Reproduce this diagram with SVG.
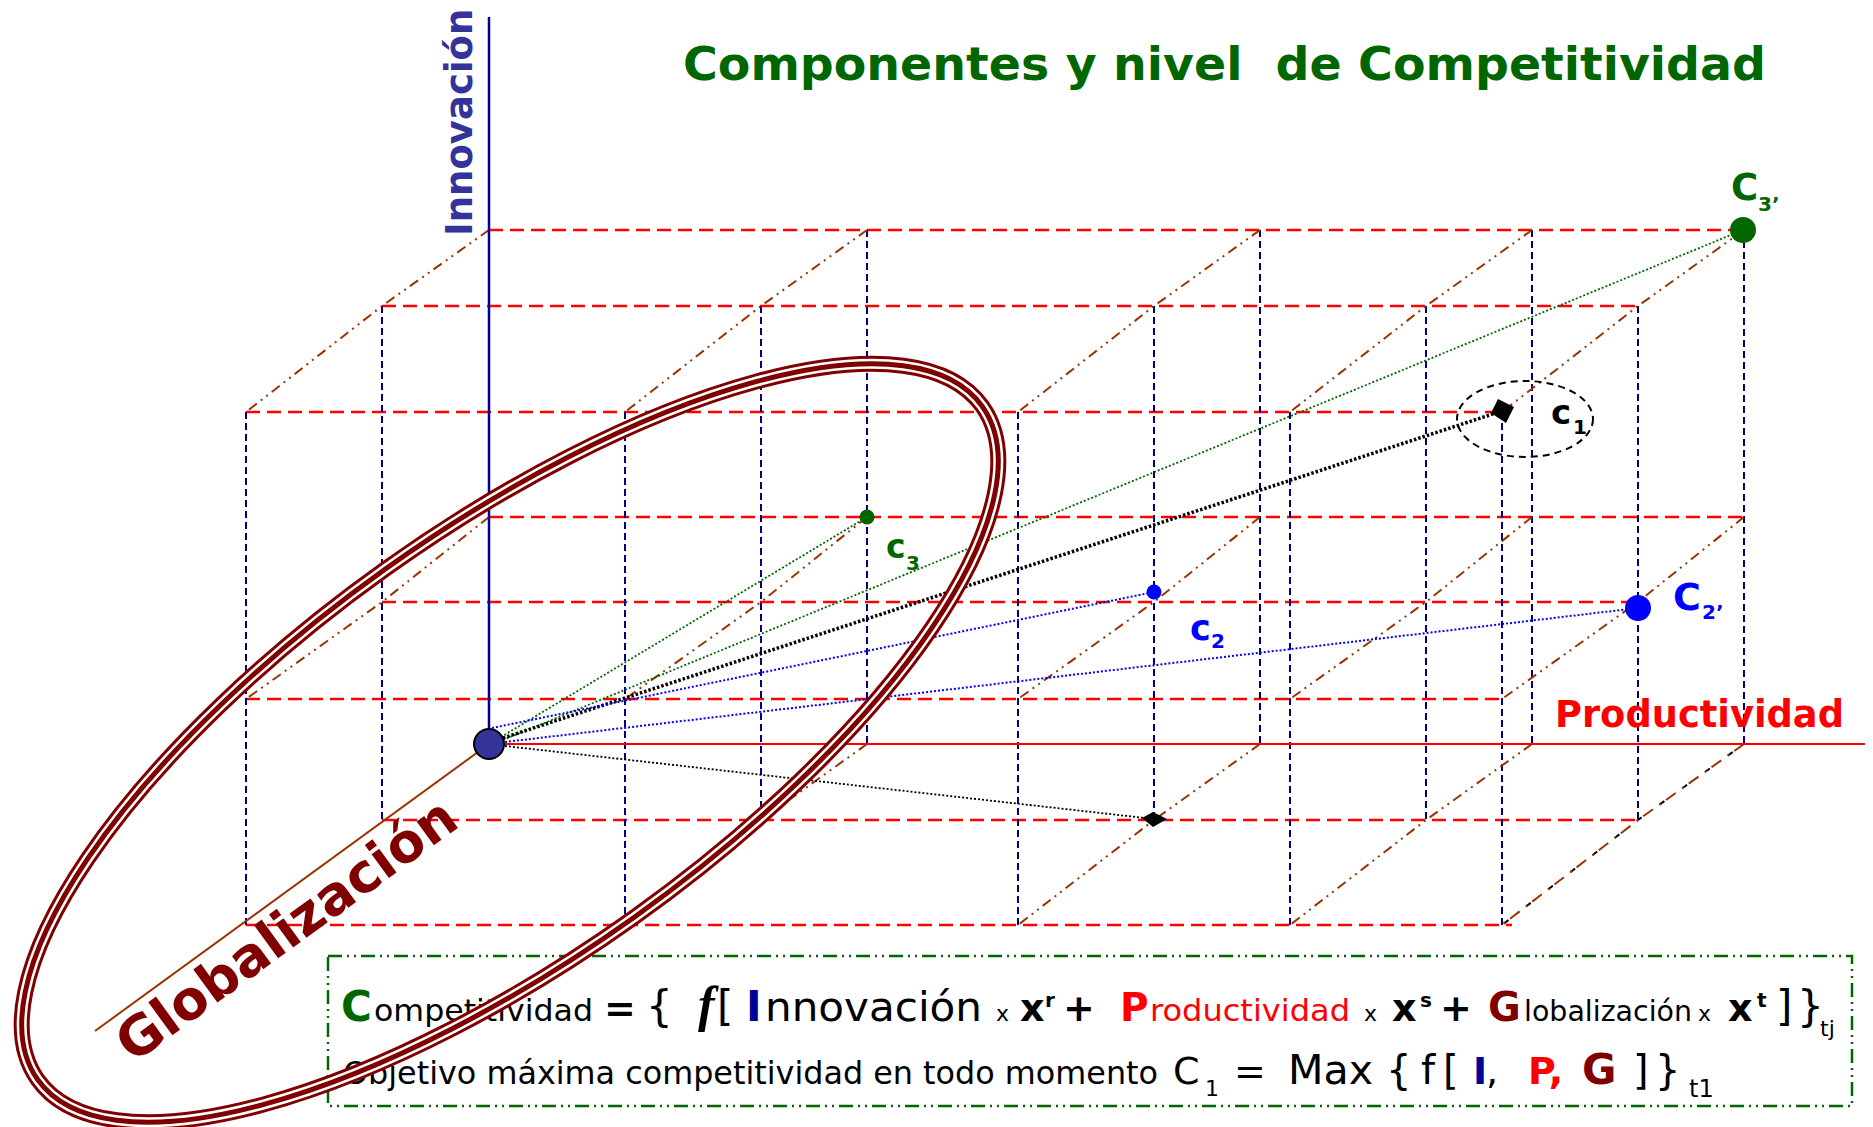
<svg xmlns="http://www.w3.org/2000/svg" width="1873" height="1127" viewBox="0 0 1873 1127">
<style>
.rd{stroke:#ff0000;stroke-width:2.5;stroke-dasharray:14 7;fill:none}
.bl{stroke:#000080;stroke-width:2;stroke-dasharray:7 4;fill:none}
.br{stroke:#993300;stroke-width:2;stroke-dasharray:10 5 2 5 2 5;fill:none}
.f{font-family:"DejaVu Sans","Liberation Sans",sans-serif;fill:#000}
.b{font-weight:bold}
.lbl{font-family:"DejaVu Sans","Liberation Sans",sans-serif;font-weight:bold}
.dot{fill:none;stroke-linecap:butt}
.ell{fill:none}
</style>
<rect width="1873" height="1127" fill="#ffffff"/>

<g id="title">
<text x="683" y="80" xml:space="preserve" class="lbl" font-size="47" fill="#006600" textLength="1083" lengthAdjust="spacingAndGlyphs">Componentes y nivel  de Competitividad</text>
</g>

<g id="grid">
<g class="rd">
<line x1="489" y1="230" x2="1744" y2="230"/>
<line x1="489" y1="517" x2="1744" y2="517"/>
<line x1="382" y1="306" x2="1638" y2="306"/>
<line x1="382" y1="602" x2="1638" y2="602"/>
<line x1="382" y1="820" x2="1638" y2="820"/>
<line x1="246" y1="412" x2="1502" y2="412"/>
<line x1="246" y1="699" x2="1502" y2="699"/>
<line x1="246" y1="925" x2="1512" y2="925"/>
</g>
<g class="bl">
<line x1="867" y1="230" x2="867" y2="744"/>
<line x1="1260" y1="230" x2="1260" y2="744"/>
<line x1="1532" y1="230" x2="1532" y2="744"/>
<line x1="1744" y1="230" x2="1744" y2="744"/>
<line x1="382" y1="306" x2="382" y2="820"/>
<line x1="761" y1="306" x2="761" y2="820"/>
<line x1="1154" y1="306" x2="1154" y2="820"/>
<line x1="1426" y1="306" x2="1426" y2="820"/>
<line x1="1638" y1="306" x2="1638" y2="820"/>
<line x1="246" y1="412" x2="246" y2="925"/>
<line x1="625" y1="412" x2="625" y2="925"/>
<line x1="1018" y1="412" x2="1018" y2="925"/>
<line x1="1290" y1="412" x2="1290" y2="925"/>
<line x1="1502" y1="412" x2="1502" y2="925"/>
</g>
<g class="br">
<polyline points="489,230 382,306 246,412"/>
<polyline points="489,517 382,602 246,699"/>
<polyline points="867,230 761,306 625,412"/>
<polyline points="867,517 761,602 625,699"/>
<polyline points="867,744 761,820 625,925"/>
<polyline points="1260,230 1154,306 1018,412"/>
<polyline points="1260,517 1154,602 1018,699"/>
<polyline points="1260,744 1154,820 1018,925"/>
<polyline points="1532,230 1426,306 1290,412"/>
<polyline points="1532,517 1426,602 1290,699"/>
<polyline points="1532,744 1426,820 1290,925"/>
<polyline points="1744,230 1638,306 1502,412"/>
<polyline points="1744,517 1638,602 1502,699"/>
</g>
<polyline points="1744,744 1638,820 1502,925" fill="none" stroke="#000000" stroke-width="2" stroke-dasharray="6 22" stroke-dashoffset="-14"/>
<polyline points="1744,744 1638,820 1502,925" fill="none" stroke="#993300" stroke-width="2" stroke-dasharray="12 6 2 8"/>
</g>

<g id="axes">
<line x1="489" y1="17" x2="489" y2="744" stroke="#000099" stroke-width="2.5"/>
<line x1="489" y1="744" x2="1865" y2="744" stroke="#ff0000" stroke-width="2"/>
<line x1="489" y1="744" x2="95" y2="1031" stroke="#993300" stroke-width="2"/>
<text class="lbl" font-size="37" fill="#333399" transform="translate(472,236) rotate(-90)">Innovación</text>
<text class="lbl" font-size="36.5" fill="#ff0000" x="1555" y="727" textLength="289" lengthAdjust="spacingAndGlyphs">Productividad</text>
</g>

<g id="connectors">
<line class="dot" x1="501" y1="737" x2="867" y2="517" stroke="#006600" stroke-width="1.8" stroke-dasharray="2 2"/>
<line class="dot" x1="503" y1="740" x2="1743" y2="230" stroke="#006600" stroke-width="1.8" stroke-dasharray="2 2"/>
<line class="dot" x1="503" y1="738" x2="1502" y2="411" stroke="#000000" stroke-width="3.5" stroke-dasharray="2.5 2"/>
<line class="dot" x1="492" y1="728" x2="1154" y2="592" stroke="#0000ff" stroke-width="2" stroke-dasharray="2 2"/>
<line class="dot" x1="505" y1="742" x2="1638" y2="608" stroke="#0000ff" stroke-width="2" stroke-dasharray="2 2"/>
<line class="dot" x1="505" y1="746" x2="1154" y2="819" stroke="#000000" stroke-width="1.8" stroke-dasharray="2 2"/>
</g>

<g id="formula">
<rect x="328" y="956" width="1524" height="150" fill="none" stroke="#006600" stroke-width="2.5" stroke-dasharray="14 5 2 5 2 5"/>
<text class="f" y="1021">
<tspan x="341" class="b" fill="#006600" font-size="42">C</tspan><tspan x="374" font-size="31" textLength="219" lengthAdjust="spacingAndGlyphs">ompetitividad</tspan><tspan x="604" class="b" font-size="38">=</tspan><tspan x="646" font-size="42">{</tspan><tspan x="698" font-family="Liberation Serif" font-style="italic" font-weight="bold" font-size="50">f</tspan><tspan x="717" font-size="42">[</tspan><tspan x="746" class="b" fill="#000099" font-size="42">I</tspan><tspan x="765" font-size="41" textLength="217" lengthAdjust="spacingAndGlyphs">nnovación</tspan><tspan x="996" font-size="22">x</tspan><tspan x="1020" class="b" font-size="38">x</tspan><tspan x="1045" y="1007" class="b" font-size="20">r</tspan><tspan x="1063" y="1021" class="b" font-size="38">+</tspan><tspan x="1120" class="b" fill="#ff0000" font-size="39">P</tspan><tspan x="1150" fill="#ff0000" font-size="31" textLength="200" lengthAdjust="spacingAndGlyphs">roductividad</tspan><tspan x="1364" font-size="22">x</tspan><tspan x="1392" class="b" font-size="38">x</tspan><tspan x="1420" y="1007" class="b" font-size="20">s</tspan><tspan x="1440" y="1021" class="b" font-size="38">+</tspan><tspan x="1488" class="b" fill="#800000" font-size="40">G</tspan><tspan x="1524" font-size="28.5" textLength="168" lengthAdjust="spacingAndGlyphs">lobalización</tspan><tspan x="1698" font-size="22">x</tspan><tspan x="1728" class="b" font-size="38">x</tspan><tspan x="1757" y="1007" class="b" font-size="20">t</tspan><tspan x="1776" y="1021" font-size="42">]</tspan><tspan x="1797" font-size="42">}</tspan><tspan x="1820" y="1036" font-size="22">tj</tspan>
</text>
<text class="f" y="1084">
<tspan x="343" font-size="32" textLength="815" lengthAdjust="spacingAndGlyphs">Objetivo máxima competitividad en todo momento</tspan><tspan x="1173" font-size="38">C</tspan><tspan x="1205" y="1096" font-size="22">1</tspan><tspan x="1234" y="1084" font-size="38">=</tspan><tspan x="1288" font-size="41" textLength="85" lengthAdjust="spacingAndGlyphs">Max</tspan><tspan x="1386" font-size="40">{</tspan><tspan x="1421" font-size="40">f</tspan><tspan x="1443" font-size="40">[</tspan><tspan x="1473" class="b" fill="#000099" font-size="38">I</tspan><tspan x="1486" font-size="38">,</tspan><tspan x="1528" class="b" fill="#ff0000" font-size="38">P,</tspan><tspan x="1582" class="b" fill="#800000" font-size="42">G</tspan><tspan x="1633" font-size="40">]</tspan><tspan x="1655" font-size="40">}</tspan><tspan x="1689" y="1097" font-size="24">t1</tspan>
</text>
</g>

<g id="globalizacion-ellipse" transform="rotate(-35.5 510 743)">
<ellipse class="ell" cx="510" cy="743" rx="580" ry="214" stroke="#800000" stroke-width="16"/>
<ellipse class="ell" cx="510" cy="743" rx="580" ry="214" stroke="#ffffff" stroke-width="10"/>
<ellipse class="ell" cx="510" cy="743" rx="580" ry="214" stroke="#800000" stroke-width="5"/>
</g>

<g id="globalizacion-label">
<text class="lbl" font-size="54" fill="#800000" transform="translate(133,1064) rotate(-36)">Globalización</text>
</g>

<g id="node-origin"><circle cx="489" cy="744" r="15" fill="#333399" stroke="#000000" stroke-width="2"/></g>

<g id="node-c3">
<circle cx="867" cy="517" r="7.5" fill="#006600"/>
<text class="lbl" fill="#006600" x="886" y="558" font-size="33">c<tspan x="906" y="570" font-size="20">3</tspan></text>
</g>

<g id="node-c2">
<circle cx="1154" cy="592" r="7.5" fill="#0000ff"/>
<text class="lbl" fill="#0000ff" x="1190" y="640" font-size="35">c<tspan x="1211" y="648" font-size="20">2</tspan></text>
</g>

<g id="node-c1">
<ellipse cx="1525" cy="419" rx="68" ry="38" fill="none" stroke="#000000" stroke-width="2" stroke-dasharray="7 5"/>
<polygon points="1491,413 1498,399 1514,407 1506,423" fill="#000000"/>
<text class="lbl" fill="#000000" x="1551" y="424" font-size="34">c<tspan x="1573" y="434" font-size="20">1</tspan></text>
</g>

<g id="node-c3p">
<circle cx="1743" cy="230" r="13" fill="#006600"/>
<text class="lbl" fill="#006600" x="1731" y="200" font-size="37">C<tspan x="1758" y="211" font-size="20">3’</tspan></text>
</g>

<g id="node-c2p">
<circle cx="1638" cy="608" r="13" fill="#0000ff"/>
<text class="lbl" fill="#0000ff" x="1673" y="610" font-size="38">C<tspan x="1702" y="619" font-size="20">2’</tspan></text>
</g>

<g id="node-proj">
<polygon points="1142,818 1153,812 1167,819 1153,827" fill="#000000"/>
</g>
</svg>
